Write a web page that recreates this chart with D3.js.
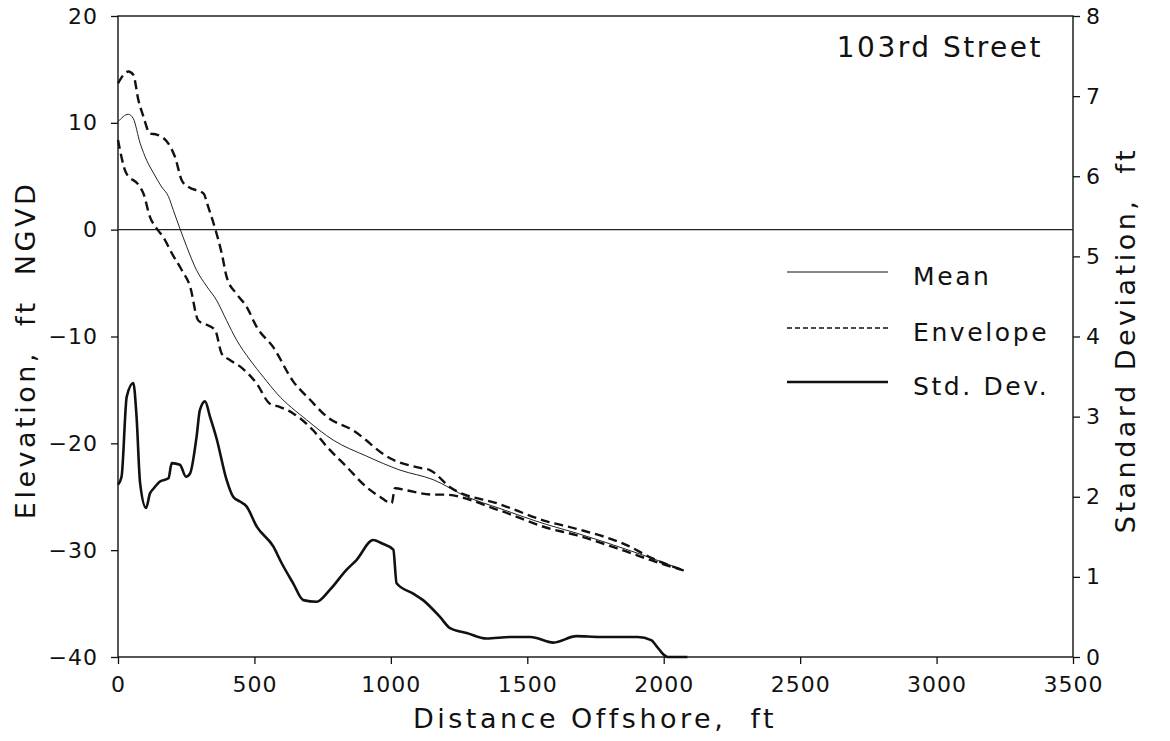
<!DOCTYPE html>
<html lang="en">
<head>
<meta charset="UTF-8">
<script src="https://d3js.org/d3.v7.min.js"></script>
<style>
  body { margin: 0; background: #fff; }
  text { font-family: "DejaVu Sans", sans-serif; fill: #111; }
</style>
</head>
<body>
<svg id="chart" width="1170" height="741"></svg>
<script>
// distance offshore (ft) / elevation (ft NGVD)
const meanProfile = [
  [0,10.1],[38,10.8],[56,10.4],[81,8.1],[105,6.5],[130,5.3],[160,4.0],[185,3.1],[203,1.8],[227,0.1],
  [252,-1.6],[288,-3.8],[325,-5.3],[361,-6.6],[398,-8.5],[434,-10.3],[484,-12.2],[533,-13.8],[581,-15.3],
  [691,-17.8],[789,-19.7],[911,-21.2],[1033,-22.5],[1155,-23.4],[1278,-25.0],[1400,-26.1],[1571,-27.6],
  [1680,-28.4],[1860,-29.9],[1961,-30.8],[2073,-31.9]
];
const upperEnvelope = [
  [0,13.7],[38,14.8],[56,14.5],[75,12.1],[93,10.6],[117,9.0],[142,8.9],[191,7.8],[209,6.8],[234,4.6],
  [258,4.0],[313,3.4],[331,2.1],[356,0.1],[380,-2.2],[398,-4.4],[434,-6.0],[471,-7.2],[508,-9.1],[569,-11.0],
  [642,-14.2],[703,-15.9],[765,-17.5],[862,-18.8],[997,-21.4],[1107,-22.3],[1143,-22.5],[1217,-24.1],
  [1400,-25.7],[1571,-27.3],[1680,-28.0],[1862,-29.5],[1961,-30.8],[2073,-31.9]
];
const lowerEnvelope = [
  [0,8.4],[30,5.3],[75,4.2],[93,3.4],[117,1.2],[142,0.1],[166,-0.7],[197,-2.2],[234,-3.8],[264,-5.3],
  [294,-8.5],[325,-8.9],[356,-9.4],[380,-11.6],[410,-12.2],[447,-12.8],[508,-14.4],[557,-16.3],[594,-16.6],
  [642,-17.2],[716,-18.8],[765,-20.3],[838,-22.2],[911,-24.1],[960,-25.0],[1003,-25.6],[1015,-24.2],
  [1057,-24.4],[1155,-24.8],[1192,-24.8],[1400,-26.3],[1571,-27.9],[1680,-28.6],[1860,-30.1],[1961,-31.0],
  [2073,-31.9]
];
// distance offshore (ft) / standard deviation (ft)
const stdDev = [
  [0,2.15],[13,2.25],[32,3.25],[56,3.42],[68,3.0],[81,2.17],[103,1.86],[117,2.04],[130,2.1],[154,2.19],
  [185,2.23],[197,2.42],[227,2.4],[249,2.25],[264,2.29],[288,2.75],[300,3.08],[319,3.19],[337,3.0],[361,2.73],
  [398,2.21],[422,2.0],[447,1.94],[471,1.88],[508,1.63],[569,1.38],[600,1.17],[642,0.92],[679,0.71],[728,0.69],
  [777,0.84],[838,1.09],[874,1.21],[935,1.46],[966,1.42],[1009,1.34],[1021,0.92],[1082,0.79],[1118,0.71],
  [1180,0.5],[1217,0.36],[1278,0.3],[1351,0.23],[1437,0.25],[1512,0.25],[1596,0.18],[1680,0.26],[1765,0.25],
  [1905,0.25],[1954,0.21],[1975,0.13],[1989,0.07],[2003,0.02],[2015,0],[2087,0]
];

const xTicks = [0, 500, 1000, 1500, 2000, 2500, 3000, 3500];
const elevTicks = [-40, -30, -20, -10, 0, 10, 20];
const sdTicks = [0, 1, 2, 3, 4, 5, 6, 7, 8];
const legendItems = ["Mean", "Envelope", "Std. Dev."];

const svg = d3.select("#chart");
const plotL = 118, plotR = 1073, plotT = 16, plotB = 657;

const x = d3.scaleLinear().domain([0, 3500]).range([plotL, plotR]);
const y = d3.scaleLinear().domain([-40, 20]).range([plotB, plotT]);
const ySd = d3.scaleLinear().domain([0, 8]).range([plotB, plotT]);

// axes
const ax = svg.append("g").attr("transform", `translate(0,${plotB})`)
  .call(d3.axisBottom(x).tickValues(xTicks).tickFormat(d3.format("d"))
    .tickSize(7).tickSizeOuter(0).tickPadding(12));
const ay = svg.append("g").attr("transform", `translate(${plotL},0)`)
  .call(d3.axisLeft(y).tickValues(elevTicks).tickSize(7).tickSizeOuter(0).tickPadding(13));
const ay2 = svg.append("g").attr("transform", `translate(${plotR},0)`)
  .call(d3.axisRight(ySd).tickValues(sdTicks).tickSize(7).tickSizeOuter(0).tickPadding(6));

[ax, ay, ay2].forEach(g => {
  g.select(".domain").remove();
  g.selectAll("line").attr("stroke", "#111").attr("stroke-width", 1.3);
  g.selectAll("text").style("font-size", "22px").style("letter-spacing", "1px")
    .style("font-family", "'DejaVu Sans', sans-serif").attr("fill", "#111");
});

// frame
svg.append("rect")
  .attr("x", plotL).attr("y", plotT)
  .attr("width", plotR - plotL).attr("height", plotB - plotT)
  .attr("fill", "none").attr("stroke", "#111").attr("stroke-width", 1.4);

// zero elevation line
svg.append("line")
  .attr("x1", plotL).attr("x2", plotR)
  .attr("y1", y(0)).attr("y2", y(0))
  .attr("stroke", "#222").attr("stroke-width", 1.3);

const lineE = d3.line().x(d => x(d[0])).y(d => y(d[1])).curve(d3.curveMonotoneX);
const lineS = d3.line().x(d => x(d[0])).y(d => ySd(d[1])).curve(d3.curveMonotoneX);

svg.append("path").datum(meanProfile).attr("d", lineE)
  .attr("fill", "none").attr("stroke", "#222").attr("stroke-width", 1);

[upperEnvelope, lowerEnvelope].forEach(env => {
  svg.append("path").datum(env).attr("d", lineE)
    .attr("fill", "none").attr("stroke", "#111").attr("stroke-width", 2.4)
    .attr("stroke-dasharray", "9,5");
});

svg.append("path").datum(stdDev).attr("d", lineS)
  .attr("fill", "none").attr("stroke", "#111").attr("stroke-width", 2.6)
  .attr("stroke-linejoin", "round");

// legend
const legY = [272, 328, 382];
const legStyle = [
  { w: 1, dash: null },
  { w: 1.6, dash: "5,3" },
  { w: 2.6, dash: null }
];
legendItems.forEach((name, i) => {
  svg.append("line")
    .attr("x1", 787).attr("x2", 888).attr("y1", legY[i]).attr("y2", legY[i])
    .attr("stroke", "#111").attr("stroke-width", legStyle[i].w)
    .attr("stroke-dasharray", legStyle[i].dash);
  svg.append("text")
    .attr("x", 913).attr("y", legY[i] + 13)
    .style("font-size", "25px").style("letter-spacing", "2.6px")
    .text(name);
});

// title in plot
svg.append("text")
  .attr("x", 1043).attr("y", 57)
  .attr("text-anchor", "end")
  .style("font-size", "28px").style("letter-spacing", "2.5px")
  .text("103rd Street");

// axis titles
svg.append("text")
  .attr("x", 595).attr("y", 728)
  .attr("text-anchor", "middle")
  .style("font-size", "27px").style("letter-spacing", "3.5px")
  .style("white-space", "pre")
  .text("Distance Offshore,  ft");

svg.append("text")
  .attr("transform", "translate(35,350) rotate(-90)")
  .attr("text-anchor", "middle")
  .style("font-size", "27px").style("letter-spacing", "3.5px")
  .style("white-space", "pre")
  .text("Elevation,  ft  NGVD");

svg.append("text")
  .attr("transform", "translate(1135,340) rotate(-90)")
  .attr("text-anchor", "middle")
  .style("font-size", "27px").style("letter-spacing", "3.5px")
  .style("white-space", "pre")
  .text("Standard Deviation,  ft");
</script>
</body>
</html>
